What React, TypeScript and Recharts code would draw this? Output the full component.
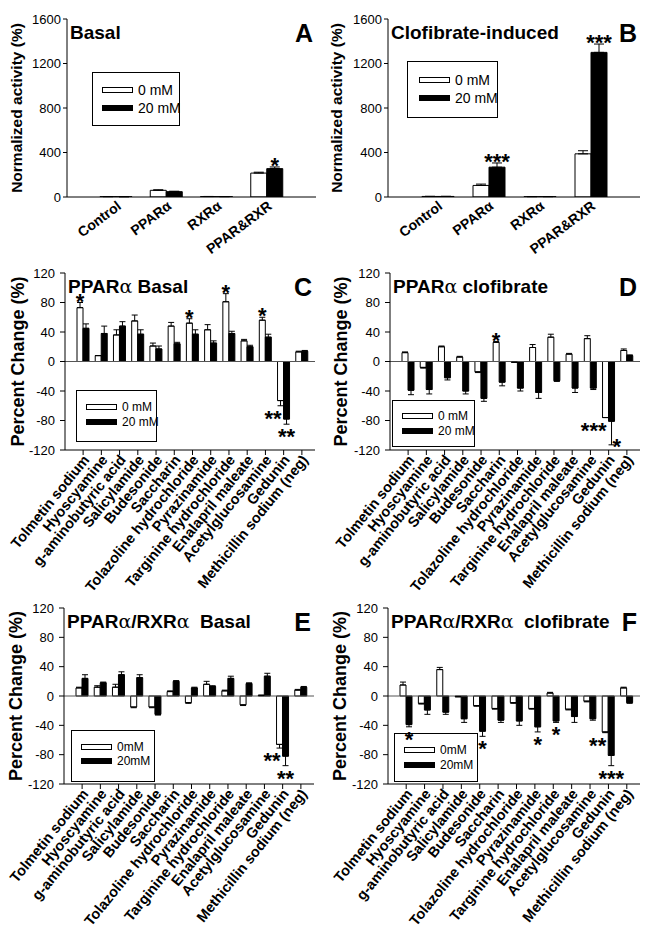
import React from 'react';
import { Bar, BarChart, ErrorBar, LabelList, Legend, ReferenceLine, XAxis, YAxis } from 'recharts';

const FONT = '"Liberation Sans", Arial, Helvetica, sans-serif';

// ---- panels A / B: normalized activity ----
const receptors = ['Control', 'PPARα', 'RXRα', 'PPAR&RXR'];
const activityTicks = [0, 400, 800, 1200, 1600];

const basal0 = [3, 60, 4, 215];
const basal0Err = [1, 5, 1, 8];
const basal20 = [2, 48, 3, 255];
const basal20Err = [1, 4, 1, 15];
const basal0Sig = ['', '', '', ''];
const basal20Sig = ['', '', '', '*'];

const clof0 = [5, 104, 3, 388];
const clof0Err = [1, 12, 1, 28];
const clof20 = [5, 268, 3, 1300];
const clof20Err = [1, 38, 1, 75];
const clof0Sig = ['', '', '', ''];
const clof20Sig = ['', '***', '', '***'];

// ---- panels C-F: percent change ----
const compounds = [
  'Tolmetin sodium',
  'Hyoscyamine',
  'g-aminobutyric acid',
  'Salicylamide',
  'Budesonide',
  'Saccharin',
  'Tolazoline hydrochloride',
  'Pyrazinamide',
  'Targinine hydrochloride',
  'Enalapril maleate',
  'Acetylglucosamine',
  'Gedunin',
  'Methicillin sodium (neg)',
];
const changeTicks = [-120, -80, -40, 0, 40, 80, 120];

// C: PPARα basal
const pBasal0 = [73, 8, 36, 55, 21, 48, 52, 43, 81, 28, 56, -53, 13];
const pBasal0Err = [7, 0, 7, 8, 4, 5, 6, 7, 11, 2, 4, 7, 1];
const pBasal20 = [45, 38, 48, 37, 17, 24, 37, 25, 38, 20, 33, -78, 14];
const pBasal20Err = [6, 10, 6, 6, 4, 2, 6, 3, 3, 2, 4, 7, 1];
const pBasal0Sig = ['*', '', '', '', '', '', '*', '', '*', '', '*', '**', ''];
const pBasal20Sig = ['', '', '', '', '', '', '', '', '', '', '', '**', ''];

// D: PPARα clofibrate
const pClof0 = [12, -8, 20, 6, -14, 26, -1, 19, 33, 10, 31, -76, 15];
const pClof0Err = [1, 1, 1, 1, 1, 1, 0, 4, 4, 1, 4, 0, 2];
const pClof20 = [-39, -38, -22, -40, -50, -28, -36, -42, -26, -36, -36, -81, 8];
const pClof20Err = [6, 6, 3, 4, 4, 5, 4, 8, 1, 6, 2, 32, 1];
const pClof0Sig = ['', '', '', '', '', '*', '', '', '', '', '', '***', ''];
const pClof20Sig = ['', '', '', '', '', '', '', '', '', '', '', '*', ''];

// E: PPARα/RXRα basal
const prBasal0 = [11, 12, 12, -15, -15, 6, -9, 16, 7, -12, 1, -66, 8];
const prBasal0Err = [1, 2, 4, 1, 1, 1, 1, 4, 1, 1, 0, 5, 1];
const prBasal20 = [24, 18, 29, 25, -25, 20, 11, 13, 24, 17, 27, -82, 12];
const prBasal20Err = [5, 1, 4, 4, 1, 1, 1, 1, 3, 1, 4, 13, 1];
const prBasal0Sig = ['', '', '', '', '', '', '', '', '', '', '', '**', ''];
const prBasal20Sig = ['', '', '', '', '', '', '', '', '', '', '', '**', ''];

// F: PPARα/RXRα clofibrate
const prClof0 = [15, -10, 36, -1, -13, -17, -9, -17, 4, -18, -7, -49, 11];
const prClof0Err = [4, 1, 3, 0, 1, 1, 1, 1, 1, 1, 1, 1, 1];
const prClof20 = [-39, -19, -22, -31, -48, -33, -34, -42, -34, -28, -31, -81, -9];
const prClof20Err = [3, 6, 3, 5, 7, 3, 6, 7, 2, 8, 2, 14, 1];
const prClof0Sig = ['', '', '', '', '', '', '', '', '', '', '', '**', ''];
const prClof20Sig = ['*', '', '', '', '*', '', '', '*', '*', '', '', '***', ''];

type Row = {
  name: string;
  v0: number;
  v20: number;
  err0: number;
  err20: number;
  e0: [number, number];
  e20: [number, number];
  s0: string;
  s20: string;
};

const oneSided = (v: number, e: number): [number, number] => (v < 0 ? [e, 0] : [0, e]);

const toRows = (
  names: string[],
  v0: number[],
  err0: number[],
  v20: number[],
  err20: number[],
  s0: string[],
  s20: string[],
): Row[] =>
  names.map((name, i) => ({
    name,
    v0: v0[i],
    v20: v20[i],
    err0: err0[i],
    err20: err20[i],
    e0: oneSided(v0[i], err0[i]),
    e20: oneSided(v20[i], err20[i]),
    s0: s0[i],
    s20: s20[i],
  }));

type Geom = { left: number; top: number; width: number; height: number; plotL: number; plotR: number; plotT: number; plotB: number };
type LegendGeom = { x: number; y: number; w: number; h: number; font: number; rows: number[]; swatchX: number };

interface PanelProps {
  geom: Geom;
  rows: Row[];
  domain: [number, number];
  ticks: number[];
  yLabel: string;
  yLabelSize: number;
  yLabelX: number;
  yTickSize: number;
  yTickMargin: number;
  title: string;
  letter: string;
  legend: LegendGeom;
  legendLabels: string[];
  barSize: number;
  capHalf: number;
  padL: number;
  padR: number;
  tickAngle: number;
  tickFont: number;
  xTickLine: boolean;
  zeroLine: boolean;
}

const withGreek = (s: string) =>
  s.split(/(α)/).map((part, i) =>
    part === 'α' ? (
      <tspan key={i} fontWeight="normal" fontFamily='"DejaVu Serif", serif'>
        α
      </tspan>
    ) : (
      <tspan key={i}>{part}</tspan>
    ),
  );

const STAR = 22;

function Panel(p: PanelProps) {
  const g = p.geom;
  const mTop = g.plotT - g.top;
  const mRight = g.left + g.width - g.plotR;
  const yW = g.plotL - g.left;
  const xH = g.top + g.height - g.plotB;
  const plotBottom = g.plotB - g.top;

  // significance stars, placed from the bar's own geometry
  const starContent = (series: 'v0' | 'v20') => (props: any) => {
    const { x, y, width, height, index, value } = props;
    if (!value) return null;
    const row = p.rows[index];
    const v = row[series];
    const err = series === 'v0' ? row.err0 : row.err20;
    const h = Number(height);
    const top = Math.min(Number(y), Number(y) + h);
    const bottom = Math.max(Number(y), Number(y) + h);
    const px = v !== 0 ? Math.abs(h) / Math.abs(v) : 0;
    const cx = Number(x) + Number(width) / 2;
    const common = { fontFamily: FONT, fontSize: STAR, fontWeight: 'bold' as const, fill: '#000' };
    if (v >= 0) {
      return (
        <text x={cx} y={top - err * px + 6} textAnchor="middle" {...common}>
          {value}
        </text>
      );
    }
    const eb = bottom + err * px;
    if (series === 'v0') {
      return (
        <text x={cx + 1} y={eb + 20} textAnchor="end" {...common}>
          {value}
        </text>
      );
    }
    if (eb + 11 > plotBottom) {
      return (
        <text x={cx + 1} y={eb + 9} textAnchor="start" {...common}>
          {value}
        </text>
      );
    }
    return (
      <text x={cx} y={eb + 20} textAnchor="middle" {...common}>
        {value}
      </text>
    );
  };

  const slantTick = (props: any) => {
    const { x, y, payload } = props;
    return (
      <g transform={`translate(${x + 3},${y})`}>
        <text
          x={0}
          y={0}
          dy="0.35em"
          textAnchor="end"
          transform={`rotate(${p.tickAngle})`}
          fontFamily={FONT}
          fontSize={p.tickFont}
          fontWeight="bold"
          fill="#000"
        >
          {payload.value}
        </text>
      </g>
    );
  };

  const lg = p.legend;
  const legendBox = () => (
    <div
      style={{
        position: 'relative',
        width: lg.w,
        height: lg.h,
        border: '1px solid #000',
        background: 'transparent',
        boxSizing: 'border-box',
        fontFamily: FONT,
        fontSize: lg.font,
        color: '#000',
      }}
    >
      {p.legendLabels.map((label, i) => (
        <div
          key={label}
          style={{ position: 'absolute', left: lg.swatchX - 1, top: lg.rows[i] - 1 - lg.font / 2, height: lg.font, display: 'flex', alignItems: 'center', whiteSpace: 'nowrap' }}
        >
          <span
            style={{
              display: 'inline-block',
              width: 31,
              height: 6,
              border: '1px solid #000',
              boxSizing: 'border-box',
              background: i === 0 ? '#fff' : '#000',
              marginRight: 5,
            }}
          />
          <span style={{ lineHeight: 1 }}>{label}</span>
        </div>
      ))}
    </div>
  );

  const axisLine = { stroke: '#000', strokeWidth: 1 };
  const yTick = { fill: '#000', fontSize: 13, fontFamily: FONT };

  return (
    <div style={{ position: 'absolute', left: g.left, top: g.top, width: g.width, height: g.height }}>
      <BarChart
        width={g.width}
        height={g.height}
        data={p.rows}
        margin={{ top: mTop, right: mRight, bottom: 0, left: 0 }}
        barGap={0}
        barSize={p.barSize}
      >
        <XAxis
          xAxisId="b"
          dataKey="name"
          interval={0}
          padding={{ left: p.padL, right: p.padR }}
          height={xH}
          tick={slantTick}
          tickSize={5}
          tickMargin={2}
          tickLine={p.xTickLine ? axisLine : false}
          axisLine={axisLine}
        />
        <XAxis xAxisId="t" dataKey="name" orientation="top" height={0} tick={false} tickLine={false} axisLine={axisLine} />
        <YAxis
          yAxisId="l"
          domain={p.domain}
          ticks={p.ticks}
          interval={0}
          width={yW}
          tick={yTick}
          tickSize={p.yTickSize}
          tickMargin={p.yTickMargin}
          tickLine={axisLine}
          axisLine={axisLine}
          allowDataOverflow
        />
        <YAxis yAxisId="r" orientation="right" domain={p.domain} ticks={p.ticks} width={0} tick={false} tickLine={false} axisLine={axisLine} allowDataOverflow />
        {p.zeroLine && <ReferenceLine xAxisId="b" yAxisId="l" y={0} stroke="#555" strokeWidth={1} />}
        <Bar xAxisId="b" yAxisId="l" dataKey="v0" fill="#fff" stroke="#000" strokeWidth={1} isAnimationActive={false}>
          <ErrorBar dataKey="e0" direction="y" width={p.capHalf} stroke="#000" strokeWidth={1} isAnimationActive={false} />
          <LabelList dataKey="s0" content={starContent('v0')} />
        </Bar>
        <Bar xAxisId="b" yAxisId="l" dataKey="v20" fill="#000" stroke="#000" strokeWidth={1} isAnimationActive={false}>
          <ErrorBar dataKey="e20" direction="y" width={p.capHalf} stroke="#000" strokeWidth={1} isAnimationActive={false} />
          <LabelList dataKey="s20" content={starContent('v20')} />
        </Bar>
        <Legend
          layout="vertical"
          align="center"
          verticalAlign="middle"
          content={legendBox}
          wrapperStyle={{ left: lg.x - g.left, top: lg.y - g.top, width: lg.w, height: lg.h }}
        />
      </BarChart>
      <svg
        width={g.width}
        height={g.height}
        style={{ position: 'absolute', left: 0, top: 0, pointerEvents: 'none', overflow: 'visible' }}
      >
        <text
          x={g.plotL - g.left + 3}
          y={g.plotT - g.top + 20}
          fontFamily={FONT}
          fontSize={19}
          fontWeight="bold"
          fill="#000"
          style={{ whiteSpace: 'pre' }}
        >
          {withGreek(p.title)}
        </text>
        <text
          x={g.plotR - g.left - 3}
          y={g.plotT - g.top + 23}
          textAnchor="end"
          fontFamily={FONT}
          fontSize={25}
          fontWeight="bold"
          fill="#000"
        >
          {p.letter}
        </text>
        <text
          transform={`translate(${p.yLabelX - g.left},${(g.plotT + g.plotB) / 2 - g.top}) rotate(-90)`}
          textAnchor="middle"
          fontFamily={FONT}
          fontSize={p.yLabelSize}
          fontWeight="bold"
          fill="#000"
        >
          {p.yLabel}
        </text>
      </svg>
    </div>
  );
}

const activityCommon = {
  domain: [0, 1600] as [number, number],
  ticks: activityTicks,
  yLabel: 'Normalized activity (%)',
  yLabelSize: 15.5,
  yTickSize: 4,
  yTickMargin: 2,
  legendLabels: ['0 mM', '20 mM'],
  barSize: 16,
  capHalf: 5,
  padL: 24,
  padR: 24,
  tickAngle: -37,
  tickFont: 14,
  xTickLine: false,
  zeroLine: false,
};

const changeCommon = {
  domain: [-120, 120] as [number, number],
  ticks: changeTicks,
  yLabel: 'Percent Change (%)',
  yLabelSize: 18,
  yTickSize: 5,
  yTickMargin: 5,
  barSize: 6,
  capHalf: 3,
  padL: 9,
  padR: 4,
  tickAngle: -51,
  tickFont: 14.5,
  xTickLine: true,
  zeroLine: true,
};

export default function App() {
  return (
    <div style={{ position: 'relative', width: 651, height: 934, background: '#fff', overflow: 'hidden' }}>
      <style>{'body{margin:0}'}</style>
      <Panel
        {...activityCommon}
        geom={{ left: 0, top: 0, width: 325, height: 262, plotL: 67, plotR: 316, plotT: 19, plotB: 197 }}
        rows={toRows(receptors, basal0, basal0Err, basal20, basal20Err, basal0Sig, basal20Sig)}
        yLabelX={22}
        title="Basal"
        letter="A"
        legend={{ x: 92, y: 72, w: 88, h: 54, font: 14, rows: [17.5, 36], swatchX: 10 }}
      />
      <Panel
        {...activityCommon}
        geom={{ left: 325, top: 0, width: 326, height: 262, plotL: 388, plotR: 640, plotT: 19, plotB: 197 }}
        rows={toRows(receptors, clof0, clof0Err, clof20, clof20Err, clof0Sig, clof20Sig)}
        yLabelX={342}
        title="Clofibrate-induced"
        letter="B"
        legend={{ x: 407, y: 61, w: 91, h: 57, font: 14, rows: [19, 37], swatchX: 12 }}
      />
      <Panel
        {...changeCommon}
        geom={{ left: 0, top: 262, width: 325, height: 334, plotL: 65, plotR: 315, plotT: 273, plotB: 450 }}
        rows={toRows(compounds, pBasal0, pBasal0Err, pBasal20, pBasal20Err, pBasal0Sig, pBasal20Sig)}
        yLabelX={24}
        title="PPARα Basal"
        letter="C"
        legendLabels={['0 mM', '20 mM']}
        legend={{ x: 76, y: 390, w: 81, h: 52, font: 12, rows: [17, 31.5], swatchX: 10 }}
      />
      <Panel
        {...changeCommon}
        geom={{ left: 325, top: 262, width: 326, height: 334, plotL: 390, plotR: 640, plotT: 273, plotB: 450 }}
        rows={toRows(compounds, pClof0, pClof0Err, pClof20, pClof20Err, pClof0Sig, pClof20Sig)}
        yLabelX={347}
        title="PPARα clofibrate"
        letter="D"
        legendLabels={['0 mM', '20 mM']}
        legend={{ x: 392, y: 400, w: 83, h: 47, font: 12, rows: [16, 30.5], swatchX: 10 }}
      />
      <Panel
        {...changeCommon}
        geom={{ left: 0, top: 596, width: 325, height: 338, plotL: 64, plotR: 314, plotT: 608, plotB: 784 }}
        rows={toRows(compounds, prBasal0, prBasal0Err, prBasal20, prBasal20Err, prBasal0Sig, prBasal20Sig)}
        yLabelX={22}
        title={'PPARα/RXRα  Basal'}
        letter="E"
        legendLabels={['0mM', '20mM']}
        legend={{ x: 71, y: 730, w: 84, h: 52, font: 12, rows: [16.5, 30.5], swatchX: 10 }}
      />
      <Panel
        {...changeCommon}
        geom={{ left: 325, top: 596, width: 326, height: 338, plotL: 388, plotR: 640, plotT: 608, plotB: 784 }}
        rows={toRows(compounds, prClof0, prClof0Err, prClof20, prClof20Err, prClof0Sig, prClof20Sig)}
        yLabelX={346}
        title={'PPARα/RXRα  clofibrate'}
        letter="F"
        legendLabels={['0mM', '20mM']}
        legend={{ x: 394, y: 733, w: 84, h: 49, font: 12, rows: [17, 31.5], swatchX: 10 }}
      />
    </div>
  );
}
